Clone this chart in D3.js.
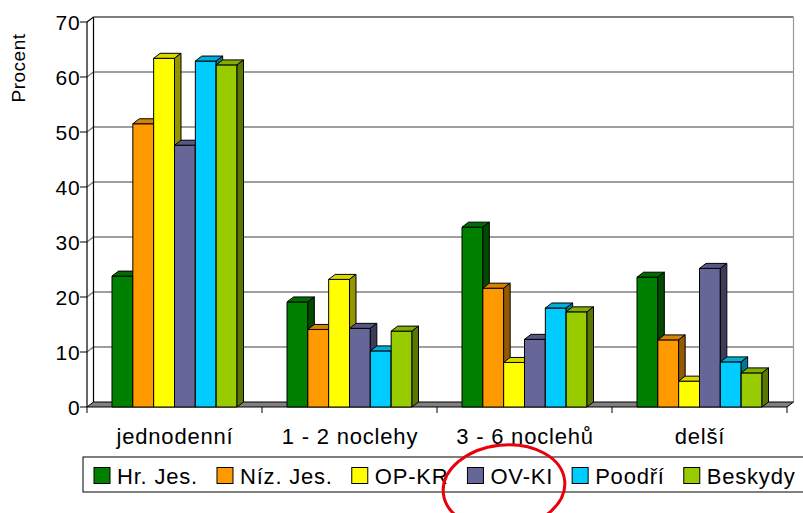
<!DOCTYPE html>
<html>
<head>
<meta charset="utf-8">
<script src="https://cdn.jsdelivr.net/npm/d3@7"></script>
<style>
  body { margin: 0; background: #fff; }
  text { font-family: Arial, "Liberation Sans", sans-serif; fill: #000; }
</style>
</head>
<body>
<svg id="svg1"></svg>
<script>
// kategorie a řady
const categories = ["jednodenní", "1 - 2 noclehy", "3 - 6 noclehů", "delší"];
const series = ["Hr. Jes.", "Níz. Jes.", "OP-KR", "OV-KI", "Poodří", "Beskydy"];
const hrJes   = [23.8, 19.1, 32.7, 23.6];
const nizJes  = [51.5, 14.1, 21.6, 12.2];
const opKr    = [63.4, 23.2, 8.1, 4.7];
const ovKi    = [47.6, 14.3, 12.3, 25.2];
const poodri  = [62.9, 10.2, 18.0, 8.2];
const beskydy = [62.2, 13.8, 17.3, 6.2];
const yTicks = [0, 10, 20, 30, 40, 50, 60, 70];

const colors = ["#008000", "#ff9900", "#ffff00", "#666699", "#00ccff", "#99cc00"];
const values = [hrJes, nizJes, opKr, ovKi, poodri, beskydy];

const width = 803, height = 513;
const dx = 6.5, dy = -5; // hloubka 3D

const svg = d3.select("#svg1")
  .attr("width", width)
  .attr("height", height)
  .attr("viewBox", [0, 0, width, height]);

const x0 = d3.scaleBand(categories, [87, 787]);
const x1 = d3.scaleBand(series, [25, 150]);
const y = d3.scaleLinear([0, 70], [407, 22]);

// zadní stěna
svg.append("rect")
  .attr("x", 87 + dx).attr("y", y(70) + dy)
  .attr("width", 700).attr("height", y(0) - y(70))
  .attr("fill", "#fff");

// mřížka
svg.append("g")
  .selectAll("polyline")
  .data(yTicks.slice(1, -1))
  .join("polyline")
  .attr("fill", "none")
  .attr("stroke", "#808080")
  .attr("stroke-width", 1.5)
  .attr("points", d => `87,${y(d)} ${87 + dx},${y(d) + dy} ${787 + dx},${y(d) + dy}`);

// rám stěn
svg.append("polyline")
  .attr("fill", "none").attr("stroke", "#000").attr("stroke-width", 1.2)
  .attr("points", `87,${y(70)} ${87 + dx},${y(70) + dy} ${787 + dx},${y(70) + dy}`);
svg.append("line")
  .attr("x1", 87 + dx).attr("x2", 87 + dx)
  .attr("y1", y(70) + dy).attr("y2", y(0) + dy)
  .attr("stroke", "#000").attr("stroke-width", 1.2);
svg.append("line")
  .attr("x1", 787 + dx).attr("x2", 787 + dx)
  .attr("y1", y(70) + dy).attr("y2", y(0) + dy)
  .attr("stroke", "#999").attr("stroke-width", 1.2);

// podlaha
svg.append("polygon")
  .attr("points", `87,${y(0)} 787,${y(0)} ${787 + dx},${y(0) + dy} ${87 + dx},${y(0) + dy}`)
  .attr("fill", "#808080")
  .attr("stroke", "#000")
  .attr("stroke-width", 1);

// osa y
svg.append("line")
  .attr("x1", 87).attr("x2", 87).attr("y1", y(70)).attr("y2", y(0))
  .attr("stroke", "#000").attr("stroke-width", 1.2);

const yAxis = svg.append("g");
yAxis.selectAll("line")
  .data(yTicks)
  .join("line")
  .attr("x1", 80).attr("x2", 87)
  .attr("y1", d => y(d)).attr("y2", d => y(d))
  .attr("stroke", "#000");
yAxis.selectAll("text")
  .data(yTicks)
  .join("text")
  .attr("x", 80.5)
  .attr("y", d => y(d))
  .attr("dy", "0.36em")
  .attr("text-anchor", "end")
  .style("font-size", "21px")
  .style("letter-spacing", "0.8px")
  .text(d => d);

svg.append("text")
  .attr("transform", "translate(25,68) rotate(-90)")
  .attr("text-anchor", "middle")
  .style("font-size", "19px")
  .style("letter-spacing", "0.5px")
  .text("Procent");

// osa x
svg.append("g")
  .selectAll("line")
  .data(d3.range(categories.length + 1))
  .join("line")
  .attr("x1", i => 87 + i * x0.bandwidth())
  .attr("x2", i => 87 + i * x0.bandwidth())
  .attr("y1", y(0)).attr("y2", y(0) + 6)
  .attr("stroke", "#000");

svg.append("g")
  .selectAll("text")
  .data(categories)
  .join("text")
  .attr("x", d => x0(d) + x0.bandwidth() / 2 + 0.5)
  .attr("y", 444)
  .attr("text-anchor", "middle")
  .style("font-size", "22px")
  .style("letter-spacing", "0.8px")
  .text(d => d);

// sloupce
const shade = (c, k) => d3.rgb(c).darker(k).formatHex();
const bars = [];
categories.forEach((c, ci) => {
  series.forEach((s, si) => {
    bars.push({ x: x0(c) + x1(s), w: x1.bandwidth(), v: values[si][ci], color: colors[si] });
  });
});

const barG = svg.append("g")
  .attr("stroke", "#000")
  .attr("stroke-width", 1)
  .attr("stroke-linejoin", "round")
  .selectAll("g")
  .data(bars)
  .join("g");

barG.append("rect")
  .attr("x", d => d.x).attr("y", d => y(d.v))
  .attr("width", d => d.w).attr("height", d => y(0) - y(d.v))
  .attr("fill", d => d.color);
barG.append("polygon")
  .attr("points", d => `${d.x},${y(d.v)} ${d.x + d.w},${y(d.v)} ${d.x + d.w + dx},${y(d.v) + dy} ${d.x + dx},${y(d.v) + dy}`)
  .attr("fill", d => shade(d.color, 0.45));
barG.append("polygon")
  .attr("points", d => `${d.x + d.w},${y(d.v)} ${d.x + d.w + dx},${y(d.v) + dy} ${d.x + d.w + dx},${y(0) + dy} ${d.x + d.w},${y(0)}`)
  .attr("fill", d => shade(d.color, 1.5));

// legenda
svg.append("rect")
  .attr("x", 83).attr("y", 457)
  .attr("width", 740).attr("height", 35)
  .attr("fill", "#fff")
  .attr("stroke", "#000");

let lx = 94;
series.forEach((s, i) => {
  const g = svg.append("g").attr("transform", `translate(${lx},0)`);
  g.append("rect")
    .attr("x", 0).attr("y", 467.5)
    .attr("width", 16).attr("height", 16)
    .attr("fill", colors[i])
    .attr("stroke", "#000");
  const t = g.append("text")
    .attr("x", 23).attr("y", 484)
    .style("font-size", "22px")
    .style("letter-spacing", "0.8px")
    .text(s);
  lx += 23 + t.node().getComputedTextLength() + 19;
});

// červená elipsa
svg.append("ellipse")
  .attr("cx", 504).attr("cy", 487)
  .attr("rx", 61).attr("ry", 42)
  .attr("transform", "rotate(-6,504,487)")
  .attr("fill", "none")
  .attr("stroke", "#e8000b")
  .attr("stroke-width", 3);
</script>
</body>
</html>
